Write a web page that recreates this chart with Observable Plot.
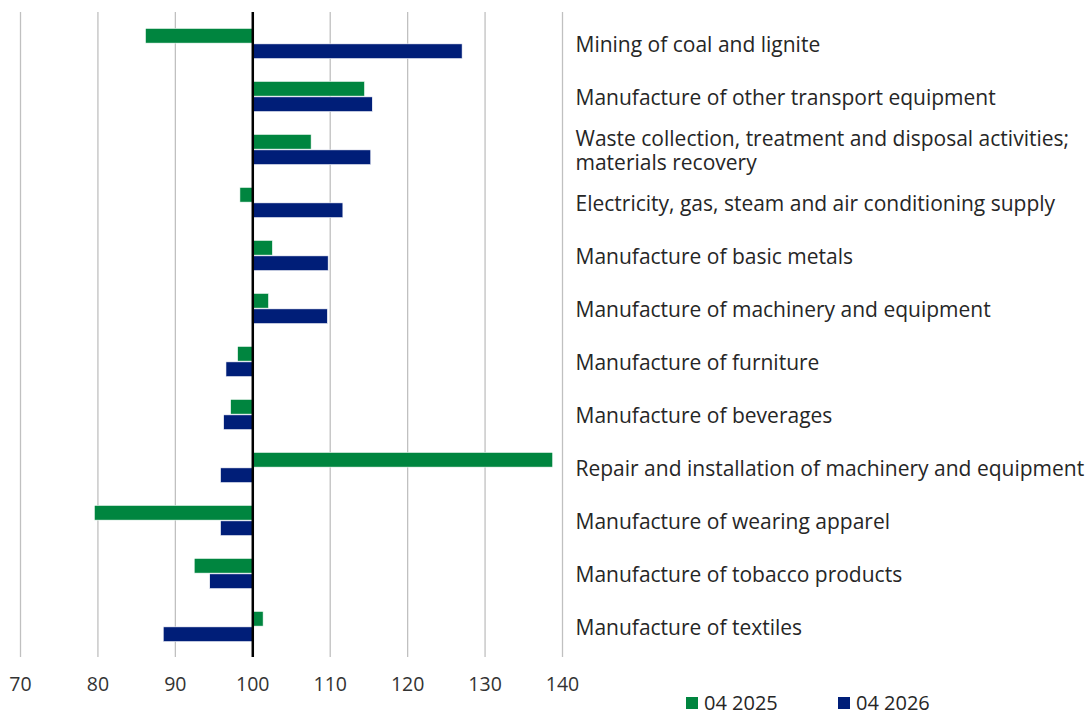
<!DOCTYPE html>
<html>
<head>
<meta charset="utf-8">
<script src="https://cdn.jsdelivr.net/npm/d3@7"></script>
<script src="https://cdn.jsdelivr.net/npm/@observablehq/plot@0.6"></script>
<style>
  body { margin: 0; background: #fff; font-family: "Open Sans", sans-serif; position: relative; }
  #chart svg { display: block; }
  #legend { position: absolute; left: 0; top: 693px; width: 1086px; height: 20px; font-size: 20px; color: #262626; }
  #legend .item { position: absolute; top: 0; display: flex; align-items: center; white-space: nowrap; line-height: 20px; }
  #legend .sw { width: 12px; height: 12px; margin-right: 6px; display: inline-block; }
</style>
</head>
<body>
<div id="chart"></div>
<div id="legend"></div>
<script>
const categories = [
  "Mining of coal and lignite",
  "Manufacture of other transport equipment",
  "Waste collection, treatment and disposal activities; materials recovery",
  "Electricity, gas, steam and air conditioning supply",
  "Manufacture of basic metals",
  "Manufacture of machinery and equipment",
  "Manufacture of furniture",
  "Manufacture of beverages",
  "Repair and installation of machinery and equipment",
  "Manufacture of wearing apparel",
  "Manufacture of tobacco products",
  "Manufacture of textiles"
];
const tickLabels = [
  "Mining of coal and lignite",
  "Manufacture of other transport equipment",
  "Waste collection, treatment and disposal activities;\nmaterials recovery",
  "Electricity, gas, steam and air conditioning supply",
  "Manufacture of basic metals",
  "Manufacture of machinery and equipment",
  "Manufacture of furniture",
  "Manufacture of beverages",
  "Repair and installation of machinery and equipment",
  "Manufacture of wearing apparel",
  "Manufacture of tobacco products",
  "Manufacture of textiles"
];
const series = ["04 2025", "04 2026"];
const values2025 = [86.2, 114.5, 107.6, 98.4, 102.6, 102.1, 98.1, 97.2, 138.8, 79.6, 92.5, 101.4];
const values2026 = [127.1, 115.5, 115.3, 111.7, 109.8, 109.7, 96.6, 96.3, 95.9, 95.9, 94.5, 88.5];
const xTicks = [70, 80, 90, 100, 110, 120, 130, 140];
const colors = ["#00853f", "#001e78"];

const d2025 = categories.map((c, i) => ({cat: c, s: series[0], v: values2025[i]}));
const d2026 = categories.map((c, i) => ({cat: c, s: series[1], v: values2026[i]}));
const labelOf = new Map(categories.map((c, i) => [c, tickLabels[i]]));

const height = 712, marginTop = 12, marginBottom = 55;
const step = (height - marginTop - marginBottom) / categories.length;
const barH = 15.5;
const half = step / 2;

const chart = Plot.plot({
  width: 1086,
  height,
  marginLeft: 20,
  marginRight: 524,
  marginTop,
  marginBottom,
  style: {fontFamily: "'Open Sans', sans-serif", fontSize: "19px", color: "#262626", background: "white"},
  x: {domain: [70, 140]},
  y: {domain: categories, padding: 0},
  color: {domain: series, range: colors},
  marks: [
    Plot.gridX(xTicks, {stroke: "#c0c0c0", strokeOpacity: 1, strokeWidth: 1.3}),
    Plot.barX(d2025, {x1: 100, x2: "v", y: "cat", fill: "s", insetTop: half - barH, insetBottom: half, stroke: "white", strokeWidth: 0.6}),
    Plot.barX(d2026, {x1: 100, x2: "v", y: "cat", fill: "s", insetTop: half, insetBottom: half - barH, stroke: "white", strokeWidth: 0.6}),
    Plot.ruleX([100], {stroke: "black", strokeWidth: 2.5}),
    Plot.axisX(xTicks, {anchor: "bottom", tickSize: 0, tickPadding: 20, label: null, fill: "#333", fontSize: 19.5}),
    Plot.axisY({anchor: "right", tickSize: 0, tickPadding: 13, label: null, tickFormat: d => labelOf.get(d), fill: "#262626", fontSize: 21, lineHeight: 1.15})
  ]
});
document.getElementById("chart").appendChild(chart);

const legend = document.getElementById("legend");
const lx = [686, 838];
series.forEach((s, i) => {
  const item = document.createElement("div");
  item.className = "item";
  item.style.left = lx[i] + "px";
  const sw = document.createElement("span");
  sw.className = "sw";
  sw.style.background = colors[i];
  const t = document.createElement("span");
  t.textContent = s;
  item.appendChild(sw);
  item.appendChild(t);
  legend.appendChild(item);
});
</script>
</body>
</html>
